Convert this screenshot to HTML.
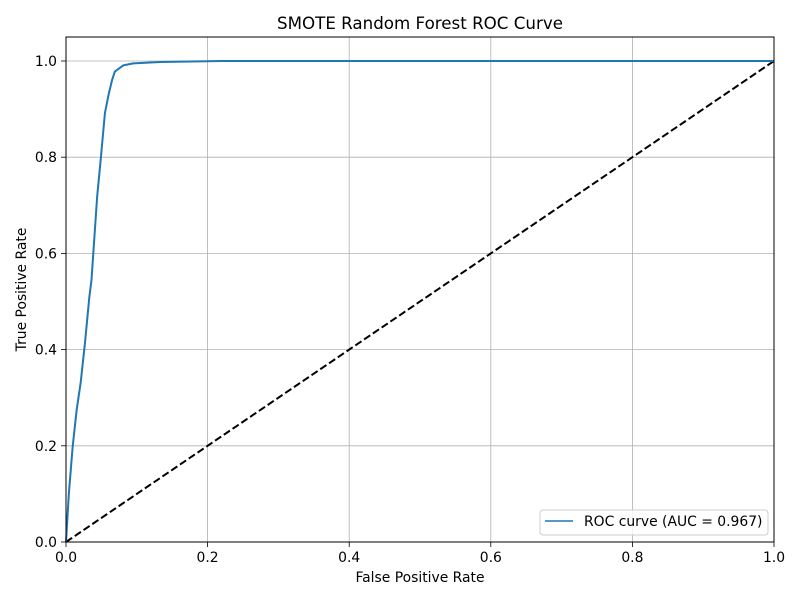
<!DOCTYPE html>
<html><head><meta charset="utf-8"><style>
html,body{margin:0;padding:0;background:#fff;}
svg{display:block;font-family:"DejaVu Sans","Liberation Sans",sans-serif;}
</style></head><body>
<svg id="chart" width="800" height="600" viewBox="0 0 800 600">
<rect x="0" y="0" width="800" height="600" fill="#fff"/>
<g id="grid"></g>
<g id="marks"></g>
<rect x="66" y="37" width="708" height="505" fill="none" stroke="#000" stroke-width="1"/>
<g id="ticks" font-size="13.9" fill="#000"></g>
<text x="420" y="29" text-anchor="middle" font-size="16.7">SMOTE Random Forest ROC Curve</text>
<text x="420" y="582" text-anchor="middle" font-size="13.9">False Positive Rate</text>
<text transform="translate(26,289.5) rotate(-90)" text-anchor="middle" font-size="13.9">True Positive Rate</text>
<g>
<rect x="540" y="510" width="228" height="25" rx="3" fill="#fff" fill-opacity="0.8" stroke="#ccc"/>
<line x1="545" y1="521" x2="573" y2="521" stroke="#1f77b4" stroke-width="1.5"/>
<text x="584" y="526" font-size="13.9">ROC curve (AUC = 0.967)</text>
</g>
</svg>
<script>
const fpr=[0,0.004,0.0094,0.015,0.0207,0.0268,0.033,0.036,0.044,0.049,0.055,0.06,0.065,0.069,0.081,0.095,0.133,0.22,1.0];
const tpr=[0,0.1,0.198,0.274,0.331,0.414,0.51,0.545,0.718,0.795,0.892,0.929,0.96,0.978,0.991,0.995,0.998,1.0,1.0];
const xTicks=[0,0.2,0.4,0.6,0.8,1.0];
const yTicks=[0,0.2,0.4,0.6,0.8,1.0];
const xTickLabels=["0.0","0.2","0.4","0.6","0.8","1.0"];
const yTickLabels=["0.0","0.2","0.4","0.6","0.8","1.0"];
const X=v=>66+v*708, Y=v=>542-v*481;
const NS="http://www.w3.org/2000/svg";
function mk(tag,attrs,parent){const e=document.createElementNS(NS,tag);for(const k in attrs)e.setAttribute(k,attrs[k]);parent.appendChild(e);return e;}
const grid=document.getElementById('grid'),ticks=document.getElementById('ticks'),marks=document.getElementById('marks');
xTicks.forEach((t,i)=>{
 const g=mk('line',{x1:X(t),x2:X(t),y1:37,y2:542,stroke:'#b0b0b0','stroke-width':0.8},grid);
 
 
 const tk=mk('line',{x1:X(t),x2:X(t),y1:542,y2:547,stroke:'#000','stroke-width':0.8},ticks);
 
 
 const tx=mk('text',{x:X(t),y:562,'text-anchor':'middle'},ticks);tx.textContent=xTickLabels[i];
 
 
});
yTicks.forEach((t,i)=>{
 const g=mk('line',{x1:66,x2:774,y1:Y(t),y2:Y(t),stroke:'#b0b0b0','stroke-width':0.8},grid);
 
 
 const tk=mk('line',{x1:61,x2:66,y1:Y(t),y2:Y(t),stroke:'#000','stroke-width':0.8},ticks);
 
 
 const tx=mk('text',{x:57,y:Y(t)+5,'text-anchor':'end'},ticks);tx.textContent=yTickLabels[i];
 
 
});
const diag=mk('line',{x1:X(0),y1:Y(0),x2:X(1),y2:Y(1),stroke:'#000','stroke-width':2,'stroke-dasharray':'7.4,3.2'},marks);


const roc=mk('polyline',{points:fpr.map((f,i)=>X(f)+','+Y(tpr[i])).join(' '),fill:'none',stroke:'#1f77b4','stroke-width':2,'stroke-linejoin':'round'},marks);


</script>
</body></html>
